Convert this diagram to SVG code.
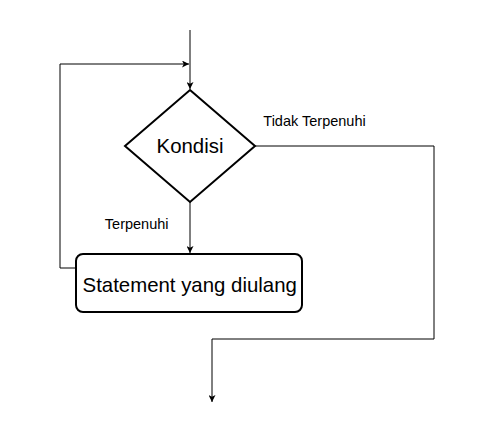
<svg xmlns="http://www.w3.org/2000/svg" width="483" height="439" viewBox="0 0 483 439">
<defs>
<style>
.edge{fill:none;stroke:#000;stroke-width:1}
.node{fill:#fff;stroke:#000;stroke-width:2}
.big{font-family:"Liberation Sans",Arial,sans-serif;font-size:20.4px;fill:#000;text-anchor:middle}
.lbl{font-family:"Liberation Sans",Arial,sans-serif;font-size:14.5px;fill:#000;text-anchor:middle}
</style>
<marker id="arr" viewBox="0 0 10 10" refX="10" refY="5" markerWidth="7" markerHeight="7" markerUnits="userSpaceOnUse" orient="auto">
<path d="M0,0 L10,5 L0,10 L2.5,5 Z" fill="#000"/>
</marker>
</defs>
<rect width="483" height="439" fill="#fff"/>
<g id="connectors">
<path class="edge" d="M190,30 L190,89" marker-end="url(#arr)"/>
<path class="edge" d="M76,268 L60,268 L60,64 L189,64" marker-end="url(#arr)"/>
<path class="edge" d="M190,202 L190,253" marker-end="url(#arr)"/>
<path class="edge" d="M255,146 L434,146 L434,339 L212,339 L212,402" marker-end="url(#arr)"/>
<text class="lbl" x="136.7" y="228.5">Terpenuhi</text>
<text class="lbl" x="314.5" y="126">Tidak Terpenuhi</text>
</g>
<g id="kondisi">
<path class="node" d="M190,90 L255,146 L190,202 L125,146 Z"/>
<text class="big" x="190" y="153.3">Kondisi</text>
</g>
<g id="statement">
<rect class="node" x="76" y="254" width="226" height="58" rx="7"/>
<text class="big" x="189.7" y="291.5">Statement yang diulang</text>
</g>
</svg>
